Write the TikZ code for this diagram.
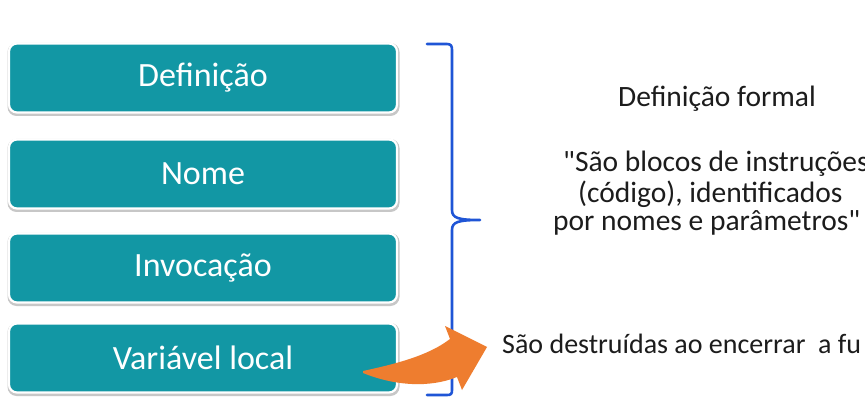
\documentclass[tikz,border=0pt]{standalone}
\usepackage{fontspec}
\setmainfont{Carlito}[Ligatures=TeXOff]
\definecolor{teal1}{HTML}{1297A4}
\definecolor{braceblue}{HTML}{1F55D6}
\definecolor{arrorange}{HTML}{EE7D2F}
\definecolor{txtdark}{HTML}{1C1C1C}
\tikzset{
  itembox/.style={rounded corners=8pt, fill=teal1, draw=white, line width=2.2pt,
    minimum width=388pt, minimum height=69pt, text=white,
    font=\fontsize{34}{40}\selectfont, inner sep=0pt},
  shadowbox/.style={rounded corners=9pt, fill=black!22, minimum width=392pt,
    minimum height=73pt, inner sep=0pt},
  plaintxt/.style={text=txtdark, font=\fontsize{29.5}{34}\selectfont, inner sep=0pt, anchor=base west},
}
\begin{document}
\begin{tikzpicture}[x=1pt,y=-1pt]
\useasboundingbox (0,0) rectangle (865,406);
\clip (0,0) rectangle (865,406);
\fill[white] (0,0) rectangle (865,406);
% shadows
\foreach \yy in {78,174,268,358} \node[shadowbox] at (203.5,\yy+1.5) {};
\node[itembox] (def) at (203,78) {Definição};
\node[itembox] (nom) at (203,174) {Nome};
\node[itembox] (inv) at (203,268) {Invocação};
\node[itembox] (var) at (203,358) {Variável local};
% brace
\draw[braceblue, line width=2.6pt, line cap=round, line join=round]
  (427,44) -- (447,44) .. controls (451,44) and (452,46) .. (452,50)
  -- (452,210) .. controls (452,218) and (458,220) .. (480,220)
  .. controls (458,220) and (452,222) .. (452,230)
  -- (452,390) .. controls (452,394) and (451,395) .. (447,395) -- (427,395);
% orange arrow
\fill[arrorange] (363,371) .. controls (395,364) and (428,356) .. (450,339)
  -- (445,326) -- (487,347) -- (462,390) -- (457,377)
  .. controls (430,388) and (395,386) .. (363,373) -- cycle;
% right texts
\node[plaintxt] (t1) at (618,107) {Definição formal};
\node[plaintxt] (t2) at (563,172) {"São blocos de instruções};
\node[plaintxt] (t3) at (578,203) {(código), identificados};
\node[plaintxt] (t4) at (553,231) {por nomes e parâmetros"};
\node[plaintxt, font=\fontsize{28}{34}\selectfont] (t5) at (502,353) {São destruídas ao encerrar \ a fu};
\end{tikzpicture}
\end{document}
